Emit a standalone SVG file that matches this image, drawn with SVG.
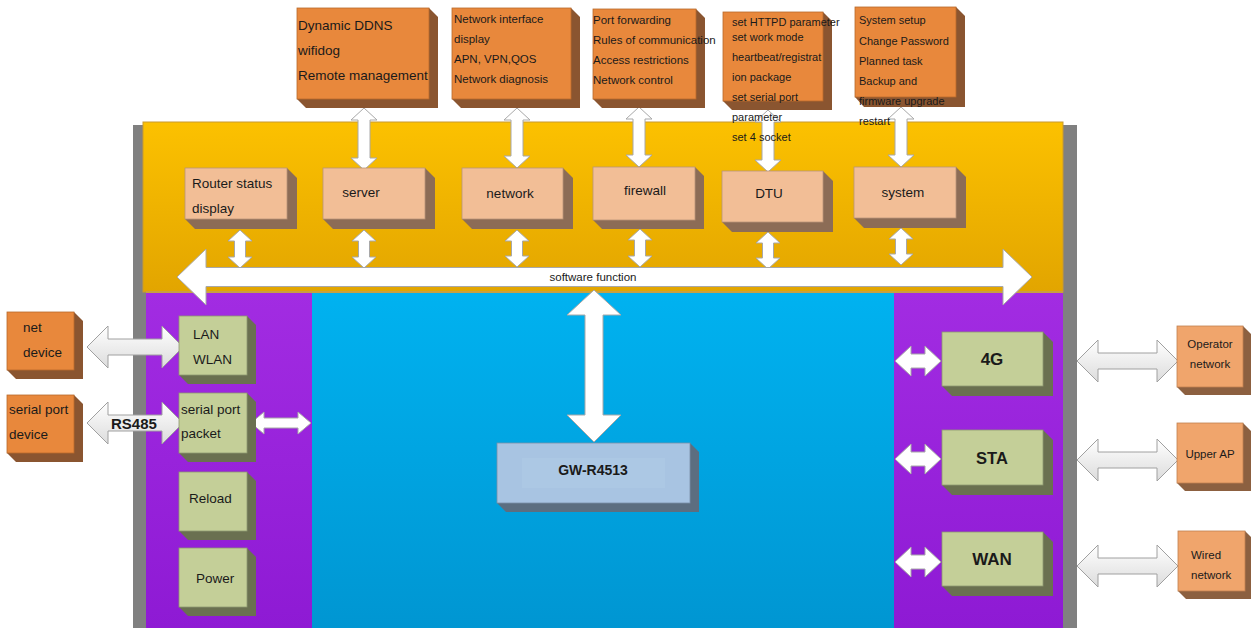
<svg xmlns="http://www.w3.org/2000/svg" width="1251" height="628" viewBox="0 0 1251 628">
<defs>
<linearGradient id="gYel" x1="0" y1="0" x2="0" y2="1"><stop offset="0" stop-color="#FCC100"/><stop offset="1" stop-color="#E2A500"/></linearGradient>
<linearGradient id="gPur" x1="0" y1="0" x2="0" y2="1"><stop offset="0" stop-color="#A22CE2"/><stop offset="1" stop-color="#8E1AD4"/></linearGradient>
<linearGradient id="gBlu" x1="0" y1="0" x2="0" y2="1"><stop offset="0" stop-color="#00B2F0"/><stop offset="1" stop-color="#0096D2"/></linearGradient>
<linearGradient id="gArr" x1="0" y1="0" x2="0" y2="1"><stop offset="0" stop-color="#FFFFFF"/><stop offset="1" stop-color="#DCDCDC"/></linearGradient>
</defs>
<style>
text{font-family:"Liberation Sans",Arial,sans-serif;fill:#1a1a1a}
.or .f{fill:#E8883C;stroke:#B86A2C;stroke-width:0.8}
.or .s{fill:#8A5530}
.lo .f{fill:#F0A56C;stroke:#C08050;stroke-width:0.8}
.lo .s{fill:#8C6040}
.pe .f{fill:#F2BE96;stroke:#B89478;stroke-width:0.8}
.pe .s{fill:#8C6C56}
.gr .f{fill:#C4CF98;stroke:#8E9870;stroke-width:0.8}
.gr .s{fill:#6A7050}
.bl .f{fill:#A8C4E2;stroke:#7890A8;stroke-width:0.8}
.bl .s{fill:#5C6E80}
.arr{fill:#FFFFFF;stroke:#A8A8A8;stroke-width:1}
.arrg{fill:url(#gArr);stroke:#A0A0A0;stroke-width:1}
.t11{font-size:11px}
.t12{font-size:11.5px}
.t13{font-size:13.5px}
.b{font-weight:bold}
</style>

<g id="frame">
<rect x="133" y="125" width="13" height="503" fill="#808080"/>
<rect x="1063" y="125" width="14" height="503" fill="#808080"/>
<rect x="133" y="125" width="944" height="6" fill="#808080"/>
<rect x="143" y="122" width="920" height="170" fill="url(#gYel)" stroke="#C89A30" stroke-width="1"/>
<rect x="146" y="292" width="166" height="336" fill="url(#gPur)"/>
<rect x="312" y="292" width="582" height="336" fill="url(#gBlu)"/>
<rect x="894" y="292" width="169" height="336" fill="url(#gPur)"/>
<line x1="146" y1="292" x2="1063" y2="292" stroke="#C8A040" stroke-width="2"/>
</g>

<g id="connectors">
<path class="arr" d="M364 108 L377 120 L370 120 L370 158 L377 158 L364 170 L351 158 L358 158 L358 120 L351 120 Z"/>
<path class="arr" d="M517 108 L530 120 L523 120 L523 156 L530 156 L517 168 L504 156 L511 156 L511 120 L504 120 Z"/>
<path class="arr" d="M639 107 L652 119 L645 119 L645 155 L652 155 L639 167 L626 155 L633 155 L633 119 L626 119 Z"/>
<path class="arr" d="M768 110 L781 122 L774 122 L774 160 L781 160 L768 172 L755 160 L762 160 L762 122 L755 122 Z"/>
<path class="arr" d="M901 107 L914 119 L907 119 L907 155 L914 155 L901 167 L888 155 L895 155 L895 119 L888 119 Z"/>
<path class="arr" d="M240 230 L252 241 L245.5 241 L245.5 257 L252 257 L240 268 L228 257 L234.5 257 L234.5 241 L228 241 Z"/>
<path class="arr" d="M364 230 L376 241 L369.5 241 L369.5 257 L376 257 L364 268 L352 257 L358.5 257 L358.5 241 L352 241 Z"/>
<path class="arr" d="M517 230 L529 241 L522.5 241 L522.5 256 L529 256 L517 267 L505 256 L511.5 256 L511.5 241 L505 241 Z"/>
<path class="arr" d="M640 229 L652 240 L645.5 240 L645.5 256 L652 256 L640 267 L628 256 L634.5 256 L634.5 240 L628 240 Z"/>
<path class="arr" d="M768 232 L780 243 L773.5 243 L773.5 258 L780 258 L768 269 L756 258 L762.5 258 L762.5 243 L756 243 Z"/>
<path class="arr" d="M901 228 L913 239 L906.5 239 L906.5 254 L913 254 L901 265 L889 254 L895.5 254 L895.5 239 L889 239 Z"/>
<path class="arr" d="M177 277 L206 249 L206 267.5 L1003 267.5 L1003 249 L1032 277 L1003 305 L1003 286.5 L206 286.5 L206 305 Z"/>
<path class="arr" d="M594 290 L621 315 L603 315 L603 415 L621 415 L594 442 L567 415 L585 415 L585 315 L567 315 Z"/>
<path class="arrg" d="M87 347 L108 326 L108 339 L162 339 L162 326 L183 347 L162 368 L162 355 L108 355 L108 368 Z"/>
<path class="arrg" d="M87 423 L108 402 L108 415 L162 415 L162 402 L183 423 L162 444 L162 431 L108 431 L108 444 Z"/>
<path class="arr" d="M251 423 L264 412 L264 418 L298 418 L298 412 L311 423 L298 434 L298 428 L264 428 L264 434 Z"/>
<path class="arr" d="M895 361 L911 346 L911 354 L925 354 L925 346 L941 361 L925 376 L925 368 L911 368 L911 376 Z"/>
<path class="arr" d="M895 459 L911 444 L911 452 L925 452 L925 444 L941 459 L925 474 L925 466 L911 466 L911 474 Z"/>
<path class="arr" d="M895 562 L911 547 L911 555 L925 555 L925 547 L941 562 L925 577 L925 569 L911 569 L911 577 Z"/>
<path class="arrg" d="M1077 361 L1098 340 L1098 353 L1157 353 L1157 340 L1178 361 L1157 382 L1157 369 L1098 369 L1098 382 Z"/>
<path class="arrg" d="M1077 460 L1098 439 L1098 452 L1157 452 L1157 439 L1178 460 L1157 481 L1157 468 L1098 468 L1098 481 Z"/>
<path class="arrg" d="M1077 566 L1098 545 L1098 558 L1157 558 L1157 545 L1178 566 L1157 587 L1157 574 L1098 574 L1098 587 Z"/>
<text x="593" y="281" class="t12" text-anchor="middle">software function</text>
<text x="111" y="429" font-size="15" class="b">RS485</text>
</g>

<g id="top-server" class="or">
<polygon class="s" points="429,8 438,17 438,108 306,108 297,99"/>
<rect class="f" x="297" y="8" width="132" height="91"/>
<text x="298" y="30" font-size="13.5">Dynamic DDNS</text>
<text x="298" y="55" font-size="13.5">wifidog</text>
<text x="298" y="80" font-size="13.5">Remote management</text>
</g>
<g id="top-network" class="or">
<polygon class="s" points="571,8 580,17 580,108 461,108 452,99"/>
<rect class="f" x="452" y="8" width="119" height="91"/>
<text x="454" y="23" class="t12">Network interface</text>
<text x="454" y="43" class="t12">display</text>
<text x="454" y="63" class="t12">APN, VPN,QOS</text>
<text x="454" y="83" class="t12">Network diagnosis</text>
</g>
<g id="top-firewall" class="or">
<polygon class="s" points="696,9 705,18 705,108 602,108 593,99"/>
<rect class="f" x="593" y="9" width="103" height="90"/>
<text x="593" y="24" class="t12">Port forwarding</text>
<text x="593" y="44" class="t12">Rules of communication</text>
<text x="593" y="64" class="t12">Access restrictions</text>
<text x="593" y="84" class="t12">Network control</text>
</g>
<g id="top-dtu" class="or">
<polygon class="s" points="823,12 832,21 832,110 732,110 723,101"/>
<rect class="f" x="723" y="12" width="100" height="89"/>
<text x="732" y="26" class="t11">set HTTPD parameter</text>
<text x="732" y="41" class="t11">set work mode</text>
<text x="732" y="61" class="t11">heartbeat/registrat</text>
<text x="732" y="81" class="t11">ion package</text>
<text x="732" y="101" class="t11">set serial port</text>
<text x="732" y="121" class="t11">parameter</text>
<text x="732" y="141" class="t11">set 4 socket</text>
</g>
<g id="top-system" class="or">
<polygon class="s" points="956,7 965,16 965,107 864,107 855,97"/>
<rect class="f" x="855" y="7" width="101" height="90"/>
<text x="859" y="24" class="t11">System setup</text>
<text x="859" y="45" class="t11">Change Password</text>
<text x="859" y="65" class="t11">Planned task</text>
<text x="859" y="85" class="t11">Backup and</text>
<text x="859" y="105" class="t11">firmware upgrade</text>
<text x="859" y="125" class="t11">restart</text>
</g>

<g id="router-status" class="pe">
<polygon class="s" points="287,168 297,178 297,229 195,229 185,219"/>
<rect class="f" x="185" y="168" width="102" height="51"/>
<text x="192" y="188" class="t13">Router status</text>
<text x="192" y="213" class="t13">display</text>
</g>
<g id="server" class="pe">
<polygon class="s" points="425,168 435,178 435,229 333,229 323,219"/>
<rect class="f" x="323" y="168" width="102" height="51"/>
<text x="361" y="197" class="t13" text-anchor="middle">server</text>
</g>
<g id="network" class="pe">
<polygon class="s" points="563,168 573,178 573,229 472,229 462,219"/>
<rect class="f" x="462" y="168" width="101" height="51"/>
<text x="510" y="198" class="t13" text-anchor="middle">network</text>
</g>
<g id="firewall" class="pe">
<polygon class="s" points="695,167 704,176 704,229 602,229 593,220"/>
<rect class="f" x="593" y="167" width="102" height="53"/>
<text x="645" y="195" class="t13" text-anchor="middle">firewall</text>
</g>
<g id="dtu" class="pe">
<polygon class="s" points="823,171 833,181 833,232 732,232 722,222"/>
<rect class="f" x="722" y="171" width="101" height="51"/>
<text x="769" y="198" class="t13" text-anchor="middle">DTU</text>
</g>
<g id="system" class="pe">
<polygon class="s" points="956,167 966,177 966,228 864,228 854,218"/>
<rect class="f" x="854" y="167" width="102" height="51"/>
<text x="903" y="197" class="t13" text-anchor="middle">system</text>
</g>

<g id="net-device" class="or">
<polygon class="s" points="74,312 83,321 83,379 16,379 7,370"/>
<rect class="f" x="7" y="312" width="67" height="58"/>
<text x="23" y="332" class="t13">net</text>
<text x="23" y="357" class="t13">device</text>
</g>
<g id="serial-device" class="or">
<polygon class="s" points="74,395 83,404 83,462 16,462 7,453"/>
<rect class="f" x="7" y="395" width="67" height="58"/>
<text x="9" y="414" class="t13">serial port</text>
<text x="9" y="439" class="t13">device</text>
</g>

<g id="lan-wlan" class="gr">
<polygon class="s" points="247,316 256,325 256,384 188,384 179,375"/>
<rect class="f" x="179" y="316" width="68" height="59"/>
<text x="193" y="339" class="t13">LAN</text>
<text x="193" y="364" class="t13">WLAN</text>
</g>
<g id="serial-packet" class="gr">
<polygon class="s" points="247,393 256,402 256,462 188,462 179,453"/>
<rect class="f" x="179" y="393" width="68" height="60"/>
<text x="181" y="414" class="t13">serial port</text>
<text x="181" y="438" class="t13">packet</text>
</g>
<g id="reload" class="gr">
<polygon class="s" points="247,472 256,481 256,540 188,540 179,531"/>
<rect class="f" x="179" y="472" width="68" height="59"/>
<text x="189" y="503" class="t13">Reload</text>
</g>
<g id="power" class="gr">
<polygon class="s" points="247,548 256,557 256,616 188,616 179,607"/>
<rect class="f" x="179" y="548" width="68" height="59"/>
<text x="196" y="583" class="t13">Power</text>
</g>

<g id="gw-r4513" class="bl">
<polygon class="s" points="690,443 699,452 699,512 506,512 497,503"/>
<rect class="f" x="497" y="443" width="193" height="60"/>
<rect x="522" y="458" width="143" height="30" fill="#ACC8E4"/>
<text x="593" y="475" font-size="14" class="b" text-anchor="middle">GW-R4513</text>
</g>

<g id="g4g" class="gr">
<polygon class="s" points="1043,332 1053,342 1053,396 952,396 942,386"/>
<rect class="f" x="942" y="332" width="101" height="54"/>
<text x="992" y="365" font-size="17" class="b" text-anchor="middle">4G</text>
</g>
<g id="sta" class="gr">
<polygon class="s" points="1043,430 1053,440 1053,495 952,495 942,485"/>
<rect class="f" x="942" y="430" width="101" height="55"/>
<text x="992" y="464" font-size="16.5" class="b" text-anchor="middle">STA</text>
</g>
<g id="wan" class="gr">
<polygon class="s" points="1043,532 1053,542 1053,596 952,596 942,586"/>
<rect class="f" x="942" y="532" width="101" height="54"/>
<text x="992" y="565" font-size="17" class="b" text-anchor="middle">WAN</text>
</g>

<g id="operator-network" class="lo">
<polygon class="s" points="1243,326 1251,334 1251,395 1185,395 1177,387"/>
<rect class="f" x="1177" y="326" width="66" height="61"/>
<text x="1210" y="348" class="t12" text-anchor="middle">Operator</text>
<text x="1210" y="368" class="t12" text-anchor="middle">network</text>
</g>
<g id="upper-ap" class="lo">
<polygon class="s" points="1243,423 1251,431 1251,491 1185,491 1177,483"/>
<rect class="f" x="1177" y="423" width="66" height="60"/>
<text x="1210" y="458" class="t12" text-anchor="middle">Upper AP</text>
</g>
<g id="wired-network" class="lo">
<polygon class="s" points="1245,531 1253,539 1253,599 1186,599 1178,591"/>
<rect class="f" x="1178" y="531" width="67" height="60"/>
<text x="1191" y="559" class="t12">Wired</text>
<text x="1191" y="579" class="t12">network</text>
</g>
</svg>
